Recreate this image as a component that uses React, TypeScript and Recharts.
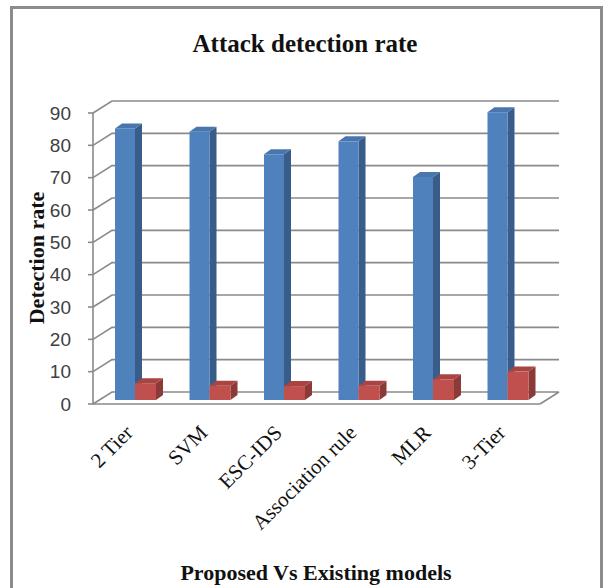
import { BarChart, Bar, XAxis, YAxis, CartesianGrid } from "recharts";

const models = ["2 Tier", "SVM", "ESC-IDS", "Association rule", "MLR", "3-Tier"];
const blueRates = [84, 83, 76, 80, 69, 89];
const redRates = [5.2, 4.4, 4.3, 4.4, 6.4, 8.8];
const yTicks = [0, 10, 20, 30, 40, 50, 60, 70, 80, 90];

const data = models.map((name, i) => ({ name, blue: blueRates[i], red: redRates[i] }));

// depth of the back wall and of each column
const DX = 19;
const DY = 12;
const SX = 5;
const SY = -4;
const BD = 7;
const BDY = 5;
const GRID = "#8a8a8a";

const BLUE = { front: "#4f81bd", side: "#385d8a", top: "#4a76ae" };
const RED = { front: "#c0504d", side: "#8c3a38", top: "#a84441" };

const Column3D = (props: any) => {
  const { x, y, width, height, colors } = props;
  if (width == null || height == null) return null;
  const fx = x + SX;
  const fy = y + SY;
  const w = width;
  const h = height;
  const side = `${fx + w},${fy} ${fx + w + BD},${fy - BDY} ${fx + w + BD},${fy + h - BDY} ${fx + w},${fy + h}`;
  const top = `${fx},${fy} ${fx + BD},${fy - BDY} ${fx + w + BD},${fy - BDY} ${fx + w},${fy}`;
  return (
    <g>
      <polygon points={side} fill={colors.side} />
      <polygon points={top} fill={colors.top} />
      <rect x={fx} y={fy} width={w} height={h} fill={colors.front} />
    </g>
  );
};

const WallLine = (props: any) => {
  const { x1, y1, x2, index } = props;
  let d = `M${x1},${y1} L${x1 + DX},${y1 - DY} L${x2 + DX},${y1 - DY}`;
  if (y1 > 400) d += ` M${x2},${y1} L${x2 + DX},${y1 - DY}`;
  return <path key={`wall-${index}`} d={d} stroke={GRID} strokeWidth={1.6} fill="none" />;
};

const ModelTick = (props: any) => {
  const { x, y, payload } = props;
  const tx = x + 4;
  const ty = y + 30;
  return (
    <text
      x={tx}
      y={ty}
      textAnchor="end"
      transform={`rotate(-45, ${tx}, ${ty})`}
      fontFamily="'Liberation Serif', 'Times New Roman', serif"
      fontSize={21}
      fill="#111"
    >
      {payload.value}
    </text>
  );
};

export default function App() {
  return (
    <div style={{ position: "absolute", left: 0, top: 0, width: 604, height: 588, background: "#fff", overflow: "hidden" }}>
      <div
        style={{
          position: "absolute",
          left: 10,
          top: 6,
          width: 587,
          height: 620,
          border: "3px solid #8c8c8c",
        }}
      />
      <div style={{ position: "absolute", left: 0, top: 0 }}>
        <BarChart
          width={604}
          height={588}
          data={data}
          margin={{ top: 113, right: 64, bottom: 154, left: 53 }}
          barGap={0}
        >
          <CartesianGrid horizontal={WallLine} vertical={false} />
          <XAxis
            dataKey="name"
            height={30}
            interval={0}
            tick={<ModelTick />}
            tickLine={false}
            tickSize={0}
            tickMargin={0}
            axisLine={{ stroke: GRID, strokeWidth: 1.6 }}
          />
          <YAxis
            width={40}
            domain={[0, 90]}
            ticks={yTicks}
            interval={0}
            tickSize={5}
            tickMargin={17}
            tickLine={{ stroke: GRID, strokeWidth: 1.6 }}
            axisLine={{ stroke: GRID, strokeWidth: 1.6 }}
            tick={{ fill: "#404040", fontSize: 19, fontFamily: "'Liberation Sans', Arial, sans-serif" }}
          />
          <Bar dataKey="blue" barSize={20} isAnimationActive={false} shape={(p: any) => <Column3D {...p} colors={BLUE} />} />
          <Bar dataKey="red" barSize={21} isAnimationActive={false} shape={(p: any) => <Column3D {...p} colors={RED} />} />
        </BarChart>
      </div>
      <svg width={604} height={588} style={{ position: "absolute", left: 0, top: 0, pointerEvents: "none" }}>
        <text x={305} y={52} textAnchor="middle" fontFamily="'Liberation Serif', 'Times New Roman', serif" fontWeight="bold" fontSize={25} fill="#111">
          Attack detection rate
        </text>
        <text
          x={44}
          y={258}
          textAnchor="middle"
          transform="rotate(-90, 44, 258)"
          fontFamily="'Liberation Serif', 'Times New Roman', serif"
          fontWeight="bold"
          fontSize={22}
          fill="#111"
        >
          Detection rate
        </text>
        <text x={316} y={580} textAnchor="middle" fontFamily="'Liberation Serif', 'Times New Roman', serif" fontWeight="bold" fontSize={22} fill="#111">
          Proposed Vs Existing models
        </text>
      </svg>
    </div>
  );
}
